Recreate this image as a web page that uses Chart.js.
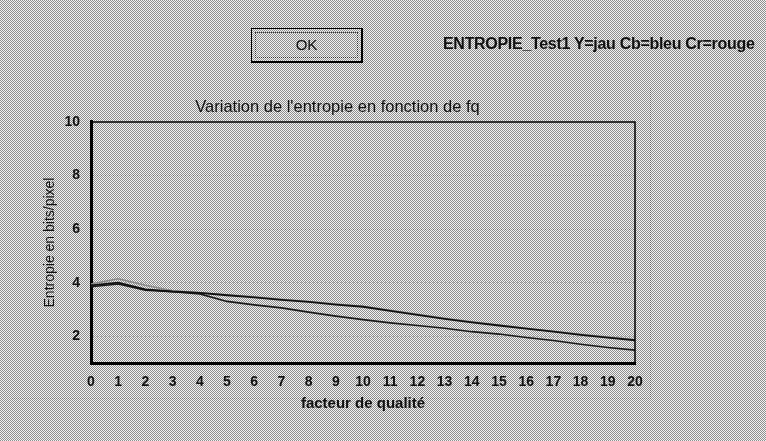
<!DOCTYPE html>
<html>
<head>
<meta charset="utf-8">
<script src="https://cdn.jsdelivr.net/npm/chart.js@4/dist/chart.umd.min.js"></script>
<style>
  html, body { margin: 0; padding: 0; }
  body { width: 766px; height: 441px; overflow: hidden; position: relative; background: #c4c4c4; font-family: "Liberation Sans", Arial, sans-serif; }
  #wrap { position: absolute; left: 0; top: 0; width: 766px; height: 441px; }
  #okBtn { position: absolute; left: 251px; top: 28px; width: 109px; height: 32px; border: 1px solid #000; border-right-width: 2px; border-bottom-width: 2px; font-size: 15px; line-height: 32px; text-align: center; color: #111; }
  #okBtn .focus { position: absolute; left: 3px; top: 3px; right: 3px; bottom: 3px; border: 1px dotted #333; }
  #header { position: absolute; left: 443px; top: 35px; font-size: 16px; font-weight: bold; color: #111; white-space: nowrap; letter-spacing: -0.3px; }
  #frame { position: absolute; left: 12px; top: 88px; width: 638px; height: 310px; border-right: 1px dotted #666; border-bottom: 1px dotted #777; }
</style>
</head>
<body>
<div id="frame"></div>
<div id="wrap"><canvas id="chart"></canvas></div>
<div id="okBtn"><div class="focus"></div>OK</div>
<div id="header">ENTROPIE_Test1 Y=jau Cb=bleu Cr=rouge</div>
<script>
// facteur de qualite (axe x)
const fq = [0, 1, 2, 3, 4, 5, 6, 7, 8, 9, 10, 11, 12, 13, 14, 15, 16, 17, 18, 19, 20];
// entropie en bits/pixel
const entY  = [3.95, 4.15, 3.9, 3.7, 3.62, 3.55, 3.47, 3.38, 3.3, 3.2, 3.12, 2.97, 2.82, 2.67, 2.54, 2.42, 2.3, 2.19, 2.07, 1.97, 1.87];
const entCb = [3.9, 4.0, 3.75, 3.67, 3.62, 3.53, 3.45, 3.36, 3.28, 3.18, 3.1, 2.95, 2.8, 2.65, 2.52, 2.4, 2.28, 2.17, 2.05, 1.95, 1.85];
const entCr = [3.85, 3.95, 3.72, 3.66, 3.58, 3.3, 3.17, 3.06, 2.9, 2.75, 2.62, 2.5, 2.4, 2.3, 2.17, 2.08, 1.95, 1.84, 1.7, 1.58, 1.48];

// fond tramé comme le scan
const tile = document.createElement("canvas");
tile.width = 2; tile.height = 2;
const tctx = tile.getContext("2d");
tctx.fillStyle = "#f2f2f2"; tctx.fillRect(0, 0, 2, 2);
tctx.fillStyle = "#8e8e8e"; tctx.fillRect(0, 0, 1, 1); tctx.fillRect(1, 1, 1, 1);
document.body.style.backgroundImage = "url(" + tile.toDataURL() + ")";

// cadre haut et droit de la zone de tracé
const framePlugin = {
    id: "frame",
    afterDatasetsDraw(chart) {
        const { ctx, chartArea: a } = chart;
        ctx.save();
        ctx.strokeStyle = "#000";
        ctx.lineWidth = 1.5;
        ctx.beginPath();
        ctx.moveTo(a.left, a.top);
        ctx.lineTo(a.right, a.top);
        ctx.lineTo(a.right, a.bottom);
        ctx.stroke();
        ctx.restore();
    },
};

const family = "'Liberation Sans', Arial, sans-serif";
const tickFont = { family, size: 14, weight: "bold" };

const chart = new Chart(document.getElementById("chart"), {
    type: "line",
    data: {
        labels: fq,
        datasets: [
            { label: "Cb", data: entCb, borderColor: "#111", borderWidth: 1.8 },
            { label: "Cr", data: entCr, borderColor: "#1a1a1a", borderWidth: 1.6 },
            { label: "Y", data: entY, borderColor: "#8a8a8a", borderWidth: 1.5 },
        ],
    },
    options: {
        responsive: true,
        maintainAspectRatio: false,
        animation: false,
        layout: { padding: { left: 40, right: 131, top: 0, bottom: 21 } },
        elements: { point: { radius: 0 }, line: { tension: 0 } },
        plugins: {
            legend: { display: false },
            tooltip: { enabled: false },
            title: {
                display: true,
                text: "Variation de l'entropie en fonction de fq",
                color: "#111",
                font: { family, size: 16.5, weight: "normal" },
                padding: { top: 97.1, bottom: 5.1 },
            },
        },
        scales: {
            x: {
                grid: { display: false, drawTicks: false },
                border: { display: true, color: "#000", width: 3 },
                ticks: { color: "#111", font: tickFont, padding: 11, maxRotation: 0, autoSkip: false },
                title: {
                    display: true,
                    text: "facteur de qualité",
                    color: "#111",
                    font: { family, size: 15, weight: "bold" },
                    padding: { top: 0, bottom: 7 },
                },
                afterFit(scale) { scale.height = 57; },
            },
            y: {
                min: 1,
                max: 10,
                ticks: {
                    stepSize: 2,
                    color: "#111",
                    font: tickFont,
                    padding: 11,
                    callback: (v) => (v % 2 === 0 ? v : ""),
                },
                grid: {
                    drawTicks: false,
                    color: (c) => (c.tick.value % 2 === 0 && c.tick.value < 10 ? "rgba(0,0,0,0.22)" : "rgba(0,0,0,0)"),
                },
                border: { display: true, color: "#000", width: 3, dash: [1, 3] },
                title: {
                    display: true,
                    text: "Entropie en bits/pixel",
                    color: "#111",
                    font: { family, size: 14, weight: "normal" },
                    padding: { top: 1.6, bottom: 0 },
                },
                afterFit(scale) { scale.width = 51; },
            },
        },
    },
    plugins: [framePlugin],
});
</script>
</body>
</html>
